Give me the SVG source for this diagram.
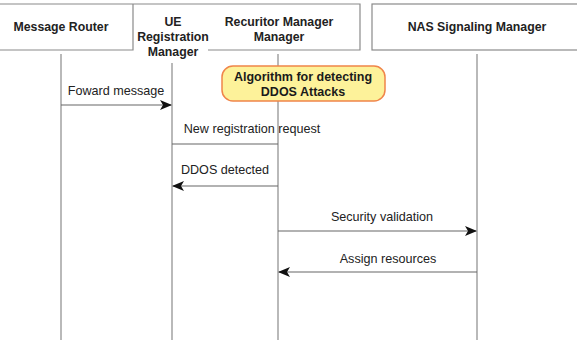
<svg xmlns="http://www.w3.org/2000/svg" width="577" height="342" viewBox="0 0 577 342">
<defs>
<style>
.hdr{fill:none;stroke:#8a8a8a;stroke-width:1.2}
.life{stroke:#8a8a8a;stroke-width:1.2;fill:none}
.msg{stroke:#666;stroke-width:1.2;fill:none}
.ht{font-family:"Liberation Sans",Arial,sans-serif;font-size:12.3px;font-weight:bold;fill:#222;text-anchor:middle}
.lt{font-family:"Liberation Sans",Arial,sans-serif;font-size:12.6px;fill:#222;text-anchor:middle}
.nt{font-family:"Liberation Sans",Arial,sans-serif;font-size:12.5px;font-weight:bold;fill:#1a1a1a;text-anchor:middle}
</style>
<marker id="ah" viewBox="0 0 12 10" refX="11" refY="5" markerWidth="12" markerHeight="10" markerUnits="userSpaceOnUse" orient="auto">
<path d="M0,0 L12,5 L0,10 L3,5 z" fill="#111"/>
</marker>
</defs>
<rect width="577" height="342" fill="#fff"/>
<g id="header-frame">
<path class="hdr" d="M0,4 H360 V50 H208 M133,4 V50 H0"/>
</g>
<g id="message-router">
<text class="ht" x="61" y="31">Message Router</text>
<line class="life" x1="61" y1="54" x2="61" y2="340"/>
</g>
<g id="ue-registration-manager">
<text class="ht" x="173" y="26">UE</text>
<text class="ht" x="173" y="41">Registration</text>
<text class="ht" x="173" y="56">Manager</text>
<line class="life" x1="172" y1="63" x2="172" y2="340"/>
</g>
<g id="recuritor-manager">
<text class="ht" x="279" y="26">Recuritor Manager</text>
<text class="ht" x="279" y="41">Manager</text>
<line class="life" x1="278" y1="54" x2="278" y2="340"/>
</g>
<g id="nas-signaling-manager">
<rect class="hdr" x="372" y="4" width="210" height="46"/>
<text class="ht" x="477" y="31">NAS Signaling Manager</text>
<line class="life" x1="477" y1="54" x2="477" y2="340"/>
</g>
<g id="ddos-note">
<rect x="222" y="66" width="163" height="35" rx="11" fill="#fdf29a" stroke="#f0854a" stroke-width="1.5"/>
<text class="nt" x="303" y="81">Algorithm for detecting</text>
<text class="nt" x="303" y="96">DDOS Attacks</text>
</g>
<g id="connectors">
<line class="msg" x1="61" y1="105" x2="171" y2="105" marker-end="url(#ah)"/>
<text class="lt" x="116" y="95">Foward message</text>
<line class="msg" x1="172" y1="144" x2="278" y2="144"/>
<text class="lt" x="252" y="133">New registration request</text>
<line class="msg" x1="278" y1="186" x2="173" y2="186" marker-end="url(#ah)"/>
<text class="lt" x="225" y="174">DDOS detected</text>
<line class="msg" x1="278" y1="231" x2="476" y2="231" marker-end="url(#ah)"/>
<text class="lt" x="382" y="221">Security validation</text>
<line class="msg" x1="477" y1="272" x2="279" y2="272" marker-end="url(#ah)"/>
<text class="lt" x="388" y="263">Assign resources</text>
</g>
</svg>
